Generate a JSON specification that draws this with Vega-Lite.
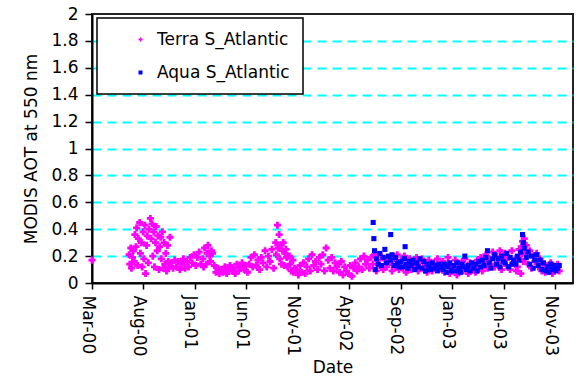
{
  "$schema": "https://vega.github.io/schema/vega-lite/v6.json",
  "autosize": {"type": "none"},
  "padding": {"left": 92, "top": 14, "right": 6, "bottom": 106},
  "width": 481,
  "height": 269,
  "background": "white",
  "config": {
    "font": "DejaVu Sans",
    "view": {"stroke": "#222222", "strokeWidth": 2},
    "axis": {"labelFont": "DejaVu Sans", "titleFont": "DejaVu Sans", "labelColor": "black", "titleColor": "black", "domainColor": "black", "tickColor": "black", "domainWidth": 2, "tickWidth": 1.5, "titleFontWeight": "normal"},
    "legend": {"strokeWidth": 1.5}
  },
  "datasets": {
    "terra": [
      {"d":"2000-03-15","v":0.17},
      {"d":"2000-07-01","v":0.21},{"d":"2000-07-03","v":0.14},{"d":"2000-07-06","v":0.26},{"d":"2000-07-08","v":0.11},{"d":"2000-07-11","v":0.19},{"d":"2000-07-13","v":0.24},{"d":"2000-07-16","v":0.16},{"d":"2000-07-18","v":0.36},{"d":"2000-07-21","v":0.27},{"d":"2000-07-23","v":0.41},{"d":"2000-07-26","v":0.13},{"d":"2000-07-28","v":0.33},
      {"d":"2000-08-01","v":0.45},{"d":"2000-08-03","v":0.22},{"d":"2000-08-06","v":0.30},{"d":"2000-08-08","v":0.12},{"d":"2000-08-11","v":0.38},{"d":"2000-08-13","v":0.18},{"d":"2000-08-16","v":0.43},{"d":"2000-08-18","v":0.07},{"d":"2000-08-21","v":0.28},{"d":"2000-08-23","v":0.35},{"d":"2000-08-26","v":0.15},{"d":"2000-08-28","v":0.40},
      {"d":"2000-09-01","v":0.48},{"d":"2000-09-03","v":0.33},{"d":"2000-09-06","v":0.44},{"d":"2000-09-08","v":0.20},{"d":"2000-09-11","v":0.38},{"d":"2000-09-13","v":0.12},{"d":"2000-09-16","v":0.30},{"d":"2000-09-18","v":0.42},{"d":"2000-09-21","v":0.24},{"d":"2000-09-23","v":0.35},{"d":"2000-09-26","v":0.10},{"d":"2000-09-28","v":0.27},
      {"d":"2000-10-01","v":0.34},{"d":"2000-10-03","v":0.18},{"d":"2000-10-06","v":0.38},{"d":"2000-10-08","v":0.11},{"d":"2000-10-11","v":0.30},{"d":"2000-10-13","v":0.14},{"d":"2000-10-16","v":0.22},{"d":"2000-10-18","v":0.09},{"d":"2000-10-21","v":0.28},{"d":"2000-10-23","v":0.16},{"d":"2000-10-26","v":0.12},{"d":"2000-10-28","v":0.34},
      {"d":"2000-11-01","v":0.15},{"d":"2000-11-06","v":0.11},{"d":"2000-11-11","v":0.17},{"d":"2000-11-16","v":0.12},{"d":"2000-11-21","v":0.16},{"d":"2000-11-26","v":0.10},
      {"d":"2000-12-01","v":0.14},{"d":"2000-12-06","v":0.18},{"d":"2000-12-11","v":0.11},{"d":"2000-12-16","v":0.16},{"d":"2000-12-21","v":0.12},{"d":"2000-12-26","v":0.19},
      {"d":"2001-01-01","v":0.15},{"d":"2001-01-06","v":0.21},{"d":"2001-01-11","v":0.13},{"d":"2001-01-16","v":0.19},{"d":"2001-01-21","v":0.23},{"d":"2001-01-26","v":0.14},
      {"d":"2001-02-01","v":0.18},{"d":"2001-02-03","v":0.12},{"d":"2001-02-06","v":0.26},{"d":"2001-02-11","v":0.14},{"d":"2001-02-13","v":0.22},{"d":"2001-02-16","v":0.28},{"d":"2001-02-21","v":0.20},{"d":"2001-02-23","v":0.16},{"d":"2001-02-26","v":0.24},
      {"d":"2001-03-01","v":0.22},{"d":"2001-03-06","v":0.13},{"d":"2001-03-11","v":0.08},{"d":"2001-03-16","v":0.11},{"d":"2001-03-21","v":0.07},{"d":"2001-03-26","v":0.10},
      {"d":"2001-04-01","v":0.08},{"d":"2001-04-06","v":0.12},{"d":"2001-04-11","v":0.07},{"d":"2001-04-16","v":0.10},{"d":"2001-04-21","v":0.13},{"d":"2001-04-26","v":0.09},
      {"d":"2001-05-01","v":0.11},{"d":"2001-05-06","v":0.07},{"d":"2001-05-11","v":0.14},{"d":"2001-05-16","v":0.09},{"d":"2001-05-21","v":0.12},{"d":"2001-05-26","v":0.15},
      {"d":"2001-06-01","v":0.10},{"d":"2001-06-06","v":0.13},{"d":"2001-06-11","v":0.08},{"d":"2001-06-16","v":0.14},{"d":"2001-06-21","v":0.19},{"d":"2001-06-26","v":0.12},
      {"d":"2001-07-01","v":0.21},{"d":"2001-07-06","v":0.13},{"d":"2001-07-11","v":0.17},{"d":"2001-07-16","v":0.10},{"d":"2001-07-21","v":0.19},{"d":"2001-07-26","v":0.15},
      {"d":"2001-08-01","v":0.24},{"d":"2001-08-06","v":0.12},{"d":"2001-08-11","v":0.20},{"d":"2001-08-16","v":0.16},{"d":"2001-08-21","v":0.25},{"d":"2001-08-26","v":0.11},
      {"d":"2001-09-01","v":0.30},{"d":"2001-09-03","v":0.21},{"d":"2001-09-06","v":0.43},{"d":"2001-09-08","v":0.26},{"d":"2001-09-11","v":0.36},{"d":"2001-09-13","v":0.18},{"d":"2001-09-16","v":0.28},{"d":"2001-09-18","v":0.14},{"d":"2001-09-21","v":0.24},{"d":"2001-09-23","v":0.30},{"d":"2001-09-26","v":0.13},{"d":"2001-09-28","v":0.22},
      {"d":"2001-10-01","v":0.25},{"d":"2001-10-03","v":0.19},{"d":"2001-10-06","v":0.12},{"d":"2001-10-11","v":0.20},{"d":"2001-10-13","v":0.14},{"d":"2001-10-16","v":0.09},{"d":"2001-10-21","v":0.17},{"d":"2001-10-23","v":0.08},{"d":"2001-10-26","v":0.11},
      {"d":"2001-11-01","v":0.10},{"d":"2001-11-06","v":0.06},{"d":"2001-11-11","v":0.13},{"d":"2001-11-16","v":0.08},{"d":"2001-11-21","v":0.15},{"d":"2001-11-26","v":0.07},
      {"d":"2001-12-01","v":0.12},{"d":"2001-12-06","v":0.18},{"d":"2001-12-11","v":0.09},{"d":"2001-12-16","v":0.21},{"d":"2001-12-21","v":0.13},{"d":"2001-12-26","v":0.16},
      {"d":"2002-01-01","v":0.10},{"d":"2002-01-06","v":0.19},{"d":"2002-01-11","v":0.14},{"d":"2002-01-16","v":0.21},{"d":"2002-01-21","v":0.09},{"d":"2002-01-26","v":0.26},
      {"d":"2002-02-01","v":0.17},{"d":"2002-02-06","v":0.11},{"d":"2002-02-11","v":0.19},{"d":"2002-02-16","v":0.09},{"d":"2002-02-21","v":0.15},{"d":"2002-02-26","v":0.12},
      {"d":"2002-03-01","v":0.14},{"d":"2002-03-06","v":0.08},{"d":"2002-03-11","v":0.16},{"d":"2002-03-16","v":0.06},{"d":"2002-03-21","v":0.12},{"d":"2002-03-26","v":0.09},
      {"d":"2002-04-01","v":0.07},{"d":"2002-04-06","v":0.13},{"d":"2002-04-11","v":0.05},{"d":"2002-04-16","v":0.11},{"d":"2002-04-21","v":0.15},{"d":"2002-04-26","v":0.09},
      {"d":"2002-05-01","v":0.12},{"d":"2002-05-06","v":0.18},{"d":"2002-05-11","v":0.10},{"d":"2002-05-16","v":0.20},{"d":"2002-05-21","v":0.14},{"d":"2002-05-26","v":0.17},
      {"d":"2002-06-01","v":0.11},{"d":"2002-06-06","v":0.19},{"d":"2002-06-11","v":0.14},{"d":"2002-06-16","v":0.21},{"d":"2002-06-21","v":0.09},{"d":"2002-06-26","v":0.17},
      {"d":"2002-07-01","v":0.13},{"d":"2002-07-06","v":0.20},{"d":"2002-07-11","v":0.10},{"d":"2002-07-16","v":0.17},{"d":"2002-07-21","v":0.12},{"d":"2002-07-26","v":0.19},
      {"d":"2002-08-01","v":0.15},{"d":"2002-08-06","v":0.09},{"d":"2002-08-11","v":0.18},{"d":"2002-08-16","v":0.12},{"d":"2002-08-21","v":0.21},{"d":"2002-08-26","v":0.10},
      {"d":"2002-09-01","v":0.17},{"d":"2002-09-06","v":0.11},{"d":"2002-09-11","v":0.20},{"d":"2002-09-16","v":0.08},{"d":"2002-09-21","v":0.14},{"d":"2002-09-26","v":0.18},
      {"d":"2002-10-01","v":0.10},{"d":"2002-10-06","v":0.16},{"d":"2002-10-11","v":0.13},{"d":"2002-10-16","v":0.19},{"d":"2002-10-21","v":0.09},{"d":"2002-10-26","v":0.15},
      {"d":"2002-11-01","v":0.18},{"d":"2002-11-06","v":0.11},{"d":"2002-11-11","v":0.14},{"d":"2002-11-16","v":0.08},{"d":"2002-11-21","v":0.17},{"d":"2002-11-26","v":0.12},
      {"d":"2002-12-01","v":0.09},{"d":"2002-12-06","v":0.15},{"d":"2002-12-11","v":0.12},{"d":"2002-12-16","v":0.18},{"d":"2002-12-21","v":0.10},{"d":"2002-12-26","v":0.14},
      {"d":"2003-01-01","v":0.16},{"d":"2003-01-06","v":0.08},{"d":"2003-01-11","v":0.13},{"d":"2003-01-16","v":0.19},{"d":"2003-01-21","v":0.07},{"d":"2003-01-26","v":0.12},
      {"d":"2003-02-01","v":0.10},{"d":"2003-02-06","v":0.17},{"d":"2003-02-11","v":0.06},{"d":"2003-02-16","v":0.14},{"d":"2003-02-21","v":0.11},{"d":"2003-02-26","v":0.16},
      {"d":"2003-03-01","v":0.09},{"d":"2003-03-06","v":0.18},{"d":"2003-03-11","v":0.12},{"d":"2003-03-16","v":0.07},{"d":"2003-03-21","v":0.15},{"d":"2003-03-26","v":0.10},
      {"d":"2003-04-01","v":0.13},{"d":"2003-04-06","v":0.08},{"d":"2003-04-11","v":0.17},{"d":"2003-04-16","v":0.11},{"d":"2003-04-21","v":0.19},{"d":"2003-04-26","v":0.09},
      {"d":"2003-05-01","v":0.16},{"d":"2003-05-06","v":0.21},{"d":"2003-05-11","v":0.11},{"d":"2003-05-16","v":0.18},{"d":"2003-05-21","v":0.14},{"d":"2003-05-26","v":0.23},
      {"d":"2003-06-01","v":0.12},{"d":"2003-06-06","v":0.20},{"d":"2003-06-11","v":0.15},{"d":"2003-06-16","v":0.24},{"d":"2003-06-21","v":0.10},{"d":"2003-06-26","v":0.18},
      {"d":"2003-07-01","v":0.22},{"d":"2003-07-06","v":0.13},{"d":"2003-07-11","v":0.19},{"d":"2003-07-16","v":0.10},{"d":"2003-07-21","v":0.24},{"d":"2003-07-26","v":0.15},
      {"d":"2003-08-01","v":0.18},{"d":"2003-08-03","v":0.09},{"d":"2003-08-06","v":0.12},{"d":"2003-08-11","v":0.25},{"d":"2003-08-13","v":0.20},{"d":"2003-08-16","v":0.07},{"d":"2003-08-18","v":0.27},{"d":"2003-08-21","v":0.31},{"d":"2003-08-23","v":0.16},{"d":"2003-08-26","v":0.33},{"d":"2003-08-28","v":0.22},
      {"d":"2003-09-01","v":0.28},{"d":"2003-09-06","v":0.14},{"d":"2003-09-11","v":0.24},{"d":"2003-09-16","v":0.11},{"d":"2003-09-21","v":0.20},{"d":"2003-09-26","v":0.16},
      {"d":"2003-10-01","v":0.22},{"d":"2003-10-06","v":0.12},{"d":"2003-10-11","v":0.18},{"d":"2003-10-16","v":0.09},{"d":"2003-10-21","v":0.14},{"d":"2003-10-26","v":0.08},
      {"d":"2003-11-01","v":0.13},{"d":"2003-11-06","v":0.09},{"d":"2003-11-11","v":0.15},{"d":"2003-11-16","v":0.07},{"d":"2003-11-21","v":0.12},{"d":"2003-11-26","v":0.10},
      {"d":"2003-12-01","v":0.14},{"d":"2003-12-06","v":0.09}
    ],
    "aqua": [
      {"d":"2002-06-12","v":0.45},{"d":"2002-06-14","v":0.33},{"d":"2002-06-16","v":0.24},{"d":"2002-06-18","v":0.10},{"d":"2002-06-21","v":0.18},{"d":"2002-06-26","v":0.14},
      {"d":"2002-07-01","v":0.22},{"d":"2002-07-06","v":0.13},{"d":"2002-07-11","v":0.19},{"d":"2002-07-16","v":0.25},{"d":"2002-07-21","v":0.15},{"d":"2002-07-26","v":0.20},
      {"d":"2002-08-01","v":0.17},{"d":"2002-08-02","v":0.36},{"d":"2002-08-06","v":0.21},{"d":"2002-08-11","v":0.13},{"d":"2002-08-16","v":0.19},{"d":"2002-08-21","v":0.15},{"d":"2002-08-26","v":0.12},
      {"d":"2002-09-01","v":0.16},{"d":"2002-09-06","v":0.12},{"d":"2002-09-11","v":0.18},{"d":"2002-09-13","v":0.27},{"d":"2002-09-16","v":0.14},{"d":"2002-09-21","v":0.11},{"d":"2002-09-26","v":0.16},
      {"d":"2002-10-01","v":0.13},{"d":"2002-10-06","v":0.17},{"d":"2002-10-11","v":0.10},{"d":"2002-10-16","v":0.15},{"d":"2002-10-21","v":0.12},{"d":"2002-10-26","v":0.18},
      {"d":"2002-11-01","v":0.11},{"d":"2002-11-06","v":0.16},{"d":"2002-11-11","v":0.09},{"d":"2002-11-16","v":0.14},{"d":"2002-11-21","v":0.12},{"d":"2002-11-26","v":0.10},
      {"d":"2002-12-01","v":0.15},{"d":"2002-12-06","v":0.11},{"d":"2002-12-11","v":0.13},{"d":"2002-12-16","v":0.09},{"d":"2002-12-21","v":0.14},{"d":"2002-12-26","v":0.12},
      {"d":"2003-01-01","v":0.10},{"d":"2003-01-06","v":0.14},{"d":"2003-01-11","v":0.08},{"d":"2003-01-16","v":0.12},{"d":"2003-01-21","v":0.15},{"d":"2003-01-26","v":0.09},
      {"d":"2003-02-01","v":0.13},{"d":"2003-02-06","v":0.09},{"d":"2003-02-11","v":0.15},{"d":"2003-02-16","v":0.11},{"d":"2003-02-21","v":0.08},{"d":"2003-02-26","v":0.14},
      {"d":"2003-03-01","v":0.12},{"d":"2003-03-06","v":0.20},{"d":"2003-03-11","v":0.10},{"d":"2003-03-16","v":0.13},{"d":"2003-03-21","v":0.09},{"d":"2003-03-26","v":0.15},
      {"d":"2003-04-01","v":0.11},{"d":"2003-04-06","v":0.14},{"d":"2003-04-11","v":0.09},{"d":"2003-04-16","v":0.16},{"d":"2003-04-21","v":0.12},{"d":"2003-04-26","v":0.17},
      {"d":"2003-05-01","v":0.13},{"d":"2003-05-06","v":0.19},{"d":"2003-05-11","v":0.24},{"d":"2003-05-16","v":0.15},{"d":"2003-05-21","v":0.11},{"d":"2003-05-26","v":0.18},
      {"d":"2003-06-01","v":0.21},{"d":"2003-06-06","v":0.14},{"d":"2003-06-11","v":0.18},{"d":"2003-06-16","v":0.12},{"d":"2003-06-21","v":0.20},{"d":"2003-06-26","v":0.16},
      {"d":"2003-07-01","v":0.15},{"d":"2003-07-06","v":0.22},{"d":"2003-07-11","v":0.12},{"d":"2003-07-16","v":0.19},{"d":"2003-07-21","v":0.14},{"d":"2003-07-26","v":0.17},
      {"d":"2003-08-01","v":0.14},{"d":"2003-08-06","v":0.20},{"d":"2003-08-11","v":0.17},{"d":"2003-08-16","v":0.23},{"d":"2003-08-21","v":0.36},{"d":"2003-08-23","v":0.30},{"d":"2003-08-26","v":0.26},
      {"d":"2003-09-01","v":0.19},{"d":"2003-09-06","v":0.23},{"d":"2003-09-11","v":0.14},{"d":"2003-09-16","v":0.20},{"d":"2003-09-21","v":0.11},{"d":"2003-09-26","v":0.17},
      {"d":"2003-10-01","v":0.21},{"d":"2003-10-06","v":0.13},{"d":"2003-10-11","v":0.17},{"d":"2003-10-16","v":0.10},{"d":"2003-10-21","v":0.15},{"d":"2003-10-26","v":0.09},
      {"d":"2003-11-01","v":0.12},{"d":"2003-11-06","v":0.08},{"d":"2003-11-11","v":0.14},{"d":"2003-11-16","v":0.10},{"d":"2003-11-21","v":0.13},{"d":"2003-11-26","v":0.09},
      {"d":"2003-12-01","v":0.11},{"d":"2003-12-06","v":0.13}
    ]
  },
  "encoding": {
    "x": {
      "field": "d", "type": "temporal", "title": "Date",
      "scale": {"type": "utc", "domain": [{"year": 2000, "month": 3, "date": 15, "utc": true}, {"year": 2004, "month": 1, "date": 15, "utc": true}]},
      "axis": {
        "values": [
          {"year": 2000, "month": 3, "date": 15, "utc": true},
          {"year": 2000, "month": 8, "date": 12, "utc": true},
          {"year": 2001, "month": 1, "date": 9, "utc": true},
          {"year": 2001, "month": 6, "date": 8, "utc": true},
          {"year": 2001, "month": 11, "date": 5, "utc": true},
          {"year": 2002, "month": 4, "date": 4, "utc": true},
          {"year": 2002, "month": 9, "date": 1, "utc": true},
          {"year": 2003, "month": 1, "date": 29, "utc": true},
          {"year": 2003, "month": 6, "date": 28, "utc": true},
          {"year": 2003, "month": 11, "date": 25, "utc": true}
        ],
        "labelExpr": "utcFormat(datum.value, '%b-%y')",
        "labelAngle": 90, "labelFontSize": 17, "labelOffset": -5, "labelPadding": 6,
        "tickSize": 6, "grid": false, "labelOverlap": false, "labelFlush": false,
        "titleFontSize": 17, "titlePadding": 4
      }
    },
    "y": {
      "field": "v", "type": "quantitative", "title": "MODIS AOT at 550 nm",
      "scale": {"domain": [0, 2], "nice": false, "zero": true},
      "axis": {
        "values": [0, 0.2, 0.4, 0.6, 0.8, 1, 1.2, 1.4, 1.6, 1.8, 2],
        "format": "~g", "labelFontSize": 17, "tickSize": 7, "labelPadding": 7,
        "grid": true, "gridColor": "#00FFFF", "gridDash": [9, 6], "gridWidth": 2,
        "gridOpacity": {"condition": {"test": "datum.value <= 0.01 || datum.value >= 1.99", "value": 0}, "value": 1},
        "titleFontSize": 17, "titlePadding": 10, "labelFlush": false, "labelOverlap": false
      }
    }
  },
  "layer": [
    {
      "data": {"name": "terra"},
      "mark": {"type": "point", "filled": true, "size": 50, "opacity": 1},
      "encoding": {
        "color": {"datum": "Terra S_Atlantic", "type": "nominal",
          "scale": {"domain": ["Terra S_Atlantic", "Aqua S_Atlantic"], "range": ["#FF00FF", "#0000FF"]},
          "legend": {"orient": "none", "legendX": 5, "legendY": 4, "title": null, "fillColor": "white", "strokeColor": "black", "padding": 13, "labelFontSize": 17, "labelColor": "black", "symbolSize": 16, "rowPadding": 15, "symbolOffset": 22, "labelOffset": 8, "labelLimit": 300}},
        "shape": {"datum": "Terra S_Atlantic", "type": "nominal",
          "scale": {"domain": ["Terra S_Atlantic", "Aqua S_Atlantic"], "range": ["cross", "square"]},
          "legend": null}
      }
    },
    {
      "data": {"name": "aqua"},
      "mark": {"type": "point", "filled": true, "size": 26, "opacity": 1},
      "encoding": {
        "color": {"datum": "Aqua S_Atlantic", "type": "nominal"},
        "shape": {"datum": "Aqua S_Atlantic", "type": "nominal"}
      }
    }
  ]
}
